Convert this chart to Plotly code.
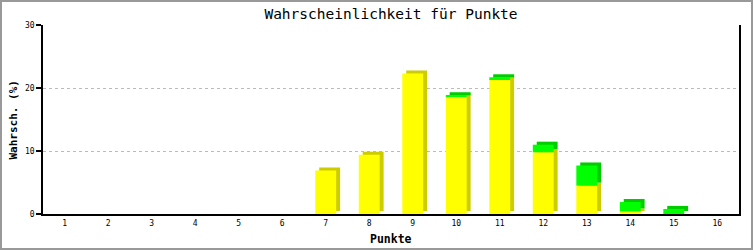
import plotly.graph_objects as go

# ---- data ----
punkte = list(range(1, 17))
tick_labels = [str(p) for p in punkte]
gelb = [0, 0, 0, 0, 0, 0, 6.9, 9.4, 22.3, 18.7, 21.4, 9.8, 4.5, 0.4, 0, 0]
gruen = [0, 0, 0, 0, 0, 0, 0, 0, 0, 0.15, 0.3, 1.2, 3.2, 1.5, 0.8, 0]
y_ticks = [0, 10, 20, 30]

# ---- layout constants ----
W, H = 753, 250
ML, MR, MT, MB = 43, 14, 25, 36
PW, PH = W - ML - MR, H - MT - MB
BAR_W = 0.48
DX = 0.09      # 3D depth (x units)
DY = 0.48      # 3D depth (y units)

YEL, YEL_D = "#ffff00", "#cccc00"
GRN, GRN_D = "#00ff00", "#00cc00"

fig = go.Figure()

# shadows (3D side/top)
ys_x, ys_y, ys_b = [], [], []
for p, g in zip(punkte, gelb):
    if g > 0:
        ys_x.append(p); ys_y.append(g); ys_b.append(DY)
fig.add_trace(go.Bar(x=ys_x, y=ys_y, base=ys_b, width=BAR_W,
                     offset=-BAR_W / 2 + DX, marker=dict(color=YEL_D, line=dict(width=0)),
                     hoverinfo="skip", showlegend=False))
gs_x, gs_y, gs_b = [], [], []
for p, g, gr in zip(punkte, gelb, gruen):
    if gr > 0:
        m = min(gr, DY)
        gs_x.append(p); gs_b.append(g + m); gs_y.append(gr + DY - m)
fig.add_trace(go.Bar(x=gs_x, y=gs_y, base=gs_b, width=BAR_W,
                     offset=-BAR_W / 2 + DX, marker=dict(color=GRN_D, line=dict(width=0)),
                     hoverinfo="skip", showlegend=False))

# fronts
fig.add_trace(go.Bar(x=punkte, y=gelb, base=[0] * len(punkte), width=BAR_W,
                     offset=-BAR_W / 2, marker=dict(color=YEL, line=dict(width=0)),
                     showlegend=False))
fig.add_trace(go.Bar(x=punkte, y=gruen, base=gelb, width=BAR_W,
                     offset=-BAR_W / 2, marker=dict(color=GRN, line=dict(width=0)),
                     showlegend=False))

mono = "DejaVu Sans Mono"
fig.update_layout(
    width=W, height=H,
    margin=dict(l=ML, r=MR, t=MT, b=MB),
    barmode="overlay",
    plot_bgcolor="white", paper_bgcolor="white",
    title=dict(text="Wahrscheinlichkeit für Punkte", x=0.5, xanchor="center",
               xref="paper", y=1 - 14 / H, yanchor="middle", yref="container",
               font=dict(family=mono, size=14.5, color="black")),
    xaxis=dict(range=[0.5, 16.5], tickmode="array", tickvals=punkte, ticktext=tick_labels,
               showgrid=False, zeroline=False, showline=True, linecolor="black", linewidth=2,
               ticks="", tickfont=dict(family=mono, size=8, color="black"), fixedrange=True),
    yaxis=dict(range=[0, 30], tickmode="array", tickvals=y_ticks,
               showgrid=True, gridcolor="#bbbbbb", griddash="dot", gridwidth=1,
               zeroline=False, showline=True, linecolor="black", linewidth=1.5, mirror=True,
               ticks="outside", ticklen=5, tickcolor="black", tickwidth=1.5,
               tickfont=dict(family=mono, size=8, color="black"), fixedrange=True),
    annotations=[
        dict(text="<b>Wahrsch. (%)</b>", xref="paper", yref="paper",
             x=(13 - ML) / PW, y=0.5, textangle=-90, showarrow=False,
             xanchor="center", yanchor="middle", font=dict(family=mono, size=11, color="black")),
        dict(text="<b>Punkte</b>", xref="paper", yref="paper",
             x=0.5, y=-(239 - (H - MB)) / PH, showarrow=False,
             xanchor="center", yanchor="middle", font=dict(family=mono, size=11.5, color="black")),
    ],
    shapes=[dict(type="rect", xref="paper", yref="paper",
                 x0=-(ML - 1) / PW, x1=1 + (MR - 1) / PW,
                 y0=-(MB - 1) / PH, y1=1 + (MT - 1) / PH,
                 line=dict(color="#999999", width=2), layer="below")],
)

fig.write_html("out.html")
